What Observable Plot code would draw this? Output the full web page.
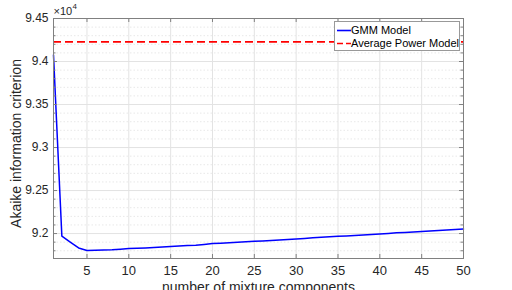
<!DOCTYPE html>
<html><head><meta charset="utf-8">
<script src="https://cdn.jsdelivr.net/npm/d3@7"></script>
<script src="https://cdn.jsdelivr.net/npm/@observablehq/plot@0.6"></script>
<style>
body{margin:0;background:#fff}
#wrap{position:relative;width:512px;height:290px;overflow:hidden;font-family:"Liberation Sans",Arial,sans-serif}
#legend{position:absolute;left:334px;top:21px;width:124px;height:28px;background:#fff;border:1px solid #999;font-size:11px;color:#000}
#legend .row{position:absolute;left:0;height:13px;line-height:13px;white-space:nowrap}
#legend svg{position:absolute;left:2px;top:0}
#legend span{position:absolute;left:16px;top:0}
</style>
</head><body><div id="wrap"><div id="legend"></div></div>
<script>
// number of mixture components
const components = Array.from({length: 50}, (_, i) => i + 1);
// Akaike information criterion (x 10^4), GMM model
const gmmAIC = [
  9.4075, 9.1969, 9.1900, 9.1833, 9.1803, 9.1806, 9.1810, 9.1812, 9.1818, 9.1826,
  9.1829, 9.1833, 9.1838, 9.1843, 9.1850, 9.1855, 9.1860, 9.1864, 9.1874, 9.1884,
  9.1888, 9.1894, 9.1900, 9.1905, 9.1910, 9.1914, 9.1920, 9.1926, 9.1932, 9.1937,
  9.1943, 9.1950, 9.1956, 9.1962, 9.1968, 9.1972, 9.1977, 9.1983, 9.1990, 9.1996,
  9.2002, 9.2008, 9.2013, 9.2018, 9.2023, 9.2029, 9.2035, 9.2041, 9.2047, 9.2053
];
// Average power model (x 10^4)
const avgPowerAIC = [9.4229];
const xTicks = [5, 10, 15, 20, 25, 30, 35, 40, 45, 50];
const yTicks = [9.2, 9.25, 9.3, 9.35, 9.4, 9.45];
const yMinor = [9.18, 9.19, 9.21, 9.22, 9.23, 9.24, 9.26, 9.27, 9.28, 9.29, 9.31, 9.32, 9.33, 9.34, 9.36, 9.37, 9.38, 9.39, 9.41, 9.42, 9.43, 9.44];
const seriesNames = ["GMM Model", "Average Power Model"];
const xLabel = "number of mixture components";
const yLabel = "Akaike information criterion";

const gmm = components.map((k, i) => ({k, v: gmmAIC[i]}));

const W = 512, H = 290, mL = 53, mR = 49, mT = 18, mB = 32;
const pw = W - mL - mR, ph = H - mT - mB;
const axisCol = "#808080";

const chart = Plot.plot({
  width: W, height: H,
  marginLeft: mL, marginRight: mR, marginTop: mT, marginBottom: mB,
  style: {fontFamily: '"Liberation Sans", Arial, sans-serif', fontSize: "13px", color: "#262626", background: "#fff"},
  x: {domain: [1, 50]},
  y: {domain: [9.171, 9.45]},
  marks: [
    Plot.ruleY(yMinor, {y: d => d, stroke: "#e8e8e8", strokeDasharray: "1.5,2", strokeWidth: 1}),
    Plot.ruleY(yTicks, {y: d => d, stroke: "#e3e3e3", strokeWidth: 1}),
    Plot.ruleX(xTicks, {x: d => d, stroke: "#e3e3e3", strokeWidth: 1}),
    Plot.ruleY(avgPowerAIC, {y: d => d, stroke: "#ff0000", strokeWidth: 1.8, strokeDasharray: "8,4"}),
    Plot.line(gmm, {x: "k", y: "v", stroke: "#0000ff", strokeWidth: 1.5}),
    Plot.frame({stroke: axisCol, strokeWidth: 1}),
    // inward ticks
    Plot.tickX(xTicks, {x: d => d, insetTop: ph - 4, stroke: axisCol}),
    Plot.tickX(xTicks, {x: d => d, insetBottom: ph - 4, stroke: axisCol}),
    Plot.tickY(yTicks, {y: d => d, insetRight: pw - 4, stroke: axisCol}),
    Plot.tickY(yTicks, {y: d => d, insetLeft: pw - 4, stroke: axisCol}),
    Plot.tickY(yMinor, {y: d => d, insetRight: pw - 2.5, stroke: axisCol}),
    Plot.tickY(yMinor, {y: d => d, insetLeft: pw - 2.5, stroke: axisCol}),
    Plot.axisX(xTicks, {tickSize: 0, tickPadding: 7, label: null, fill: "#262626", fontSize: 13}),
    Plot.axisY(yTicks, {tickSize: 0, tickPadding: 5, label: null, fill: "#262626", fontSize: 12, tickFormat: d => String(+d.toFixed(2))}),
    Plot.text([yLabel], {text: d => d, frameAnchor: "left", textAnchor: "middle", lineAnchor: "middle", rotate: -90, dx: -37, dy: 5, fontSize: 14, fill: "#262626"}),
    Plot.text([xLabel], {text: d => d, frameAnchor: "bottom", textAnchor: "middle", lineAnchor: "middle", dy: 29, fontSize: 14, fill: "#262626"}),
    Plot.text(["\u00d710"], {text: d => d, frameAnchor: "top-left", textAnchor: "start", lineAnchor: "middle", dy: -7, dx: 0, fontSize: 11, fill: "#262626"}),
    Plot.text(["4"], {text: d => d, frameAnchor: "top-left", textAnchor: "start", lineAnchor: "middle", dy: -12.5, dx: 19, fontSize: 8, fill: "#262626"})
  ]
});
const wrap = document.getElementById("wrap");
wrap.insertBefore(chart, wrap.firstChild);

const legend = document.getElementById("legend");
const styles = [{stroke: "#0000ff", dash: null}, {stroke: "#ff0000", dash: "6,3"}];
seriesNames.forEach((name, i) => {
  const row = document.createElement("div");
  row.className = "row";
  row.style.top = (2 + i * 13) + "px";
  row.style.width = "100%";
  row.innerHTML = `<svg width="14" height="13"><line x1="0" x2="14" y1="6.5" y2="6.5" stroke="${styles[i].stroke}" stroke-width="1.6" ${styles[i].dash ? `stroke-dasharray="${styles[i].dash}"` : ""}/></svg><span>${name}</span>`;
  legend.appendChild(row);
});
</script>
</body></html>
